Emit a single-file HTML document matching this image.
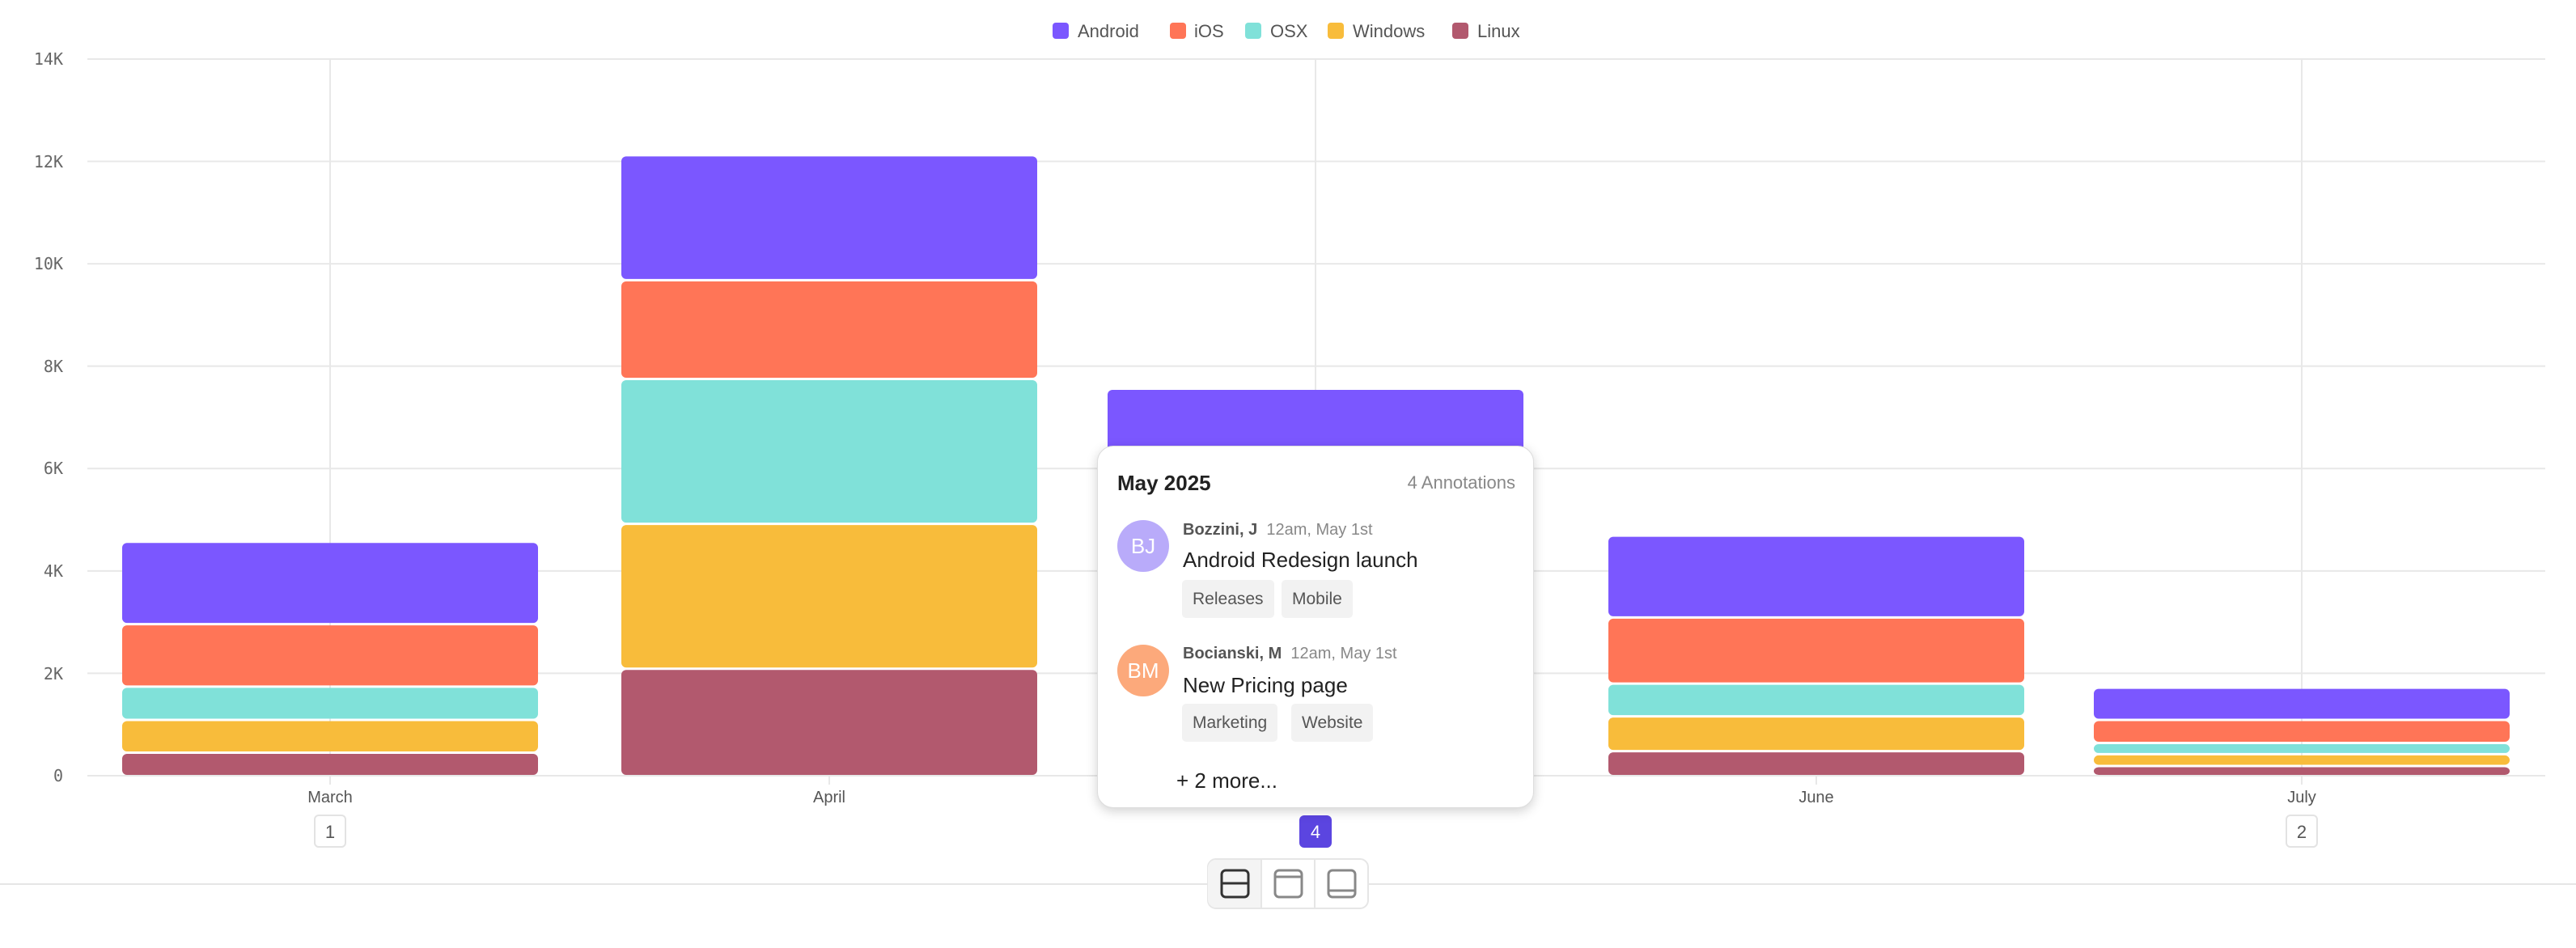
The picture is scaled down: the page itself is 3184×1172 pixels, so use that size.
<!DOCTYPE html>
<html><head><meta charset="utf-8"><style>
html,body{margin:0;padding:0;background:#fff;}
body{width:3184px;height:1172px;overflow:hidden;position:relative;font-family:"Liberation Sans",sans-serif;}
svg{position:absolute;left:0;top:0;}
.tip{position:absolute;left:1356px;top:551px;width:540px;height:448px;background:#fff;border-radius:20px;box-shadow:0 4px 14px rgba(0,0,0,0.18);border:1px solid #ddd;box-sizing:border-box;}
.tip div{position:absolute;white-space:nowrap;}
.av{width:64px;height:64px;border-radius:50%;color:#fff;font-size:26px;text-align:center;line-height:64px;}
.tag{background:#f2f2f2;border-radius:5px;color:#555;font-size:21px;height:47px;line-height:47px;padding:0 13px;}
</style></head><body>
<svg id="s" width="3184" height="1172" xmlns="http://www.w3.org/2000/svg">
<g font-family="Liberation Sans, sans-serif" font-size="22" fill="#555">
<rect x="1301" y="28" width="20" height="20" rx="4" fill="#7b57ff"/><text x="1332" y="46">Android</text>
<rect x="1446" y="28" width="20" height="20" rx="4" fill="#ff7557"/><text x="1476" y="46">iOS</text>
<rect x="1539" y="28" width="20" height="20" rx="4" fill="#80e1d9"/><text x="1570" y="46">OSX</text>
<rect x="1641" y="28" width="20" height="20" rx="4" fill="#f8bc3b"/><text x="1672" y="46">Windows</text>
<rect x="1795" y="28" width="20" height="20" rx="4" fill="#b2596e"/><text x="1826" y="46">Linux</text>
</g>
<line x1="0" y1="1093" x2="3184" y2="1093" stroke="#e6e6e6" stroke-width="2"/>
<g id="grid"></g>
<g id="bars"></g>
<g font-family="DejaVu Sans Mono, monospace" font-size="20" fill="#666" text-anchor="end">
<text x="78" y="80">14K</text><text x="78" y="207">12K</text><text x="78" y="333">10K</text>
<text x="78" y="460">8K</text><text x="78" y="586">6K</text><text x="78" y="713">4K</text>
<text x="78" y="840">2K</text><text x="78" y="966">0</text>
</g>
<g font-family="Liberation Sans, sans-serif" font-size="20" fill="#555" text-anchor="middle">
<text x="408" y="992">March</text><text x="1025" y="992">April</text><text x="2245" y="992">June</text><text x="2845" y="992">July</text>
</g>
<g font-family="Liberation Sans, sans-serif" font-size="22" text-anchor="middle">
<rect x="389" y="1008" width="38" height="39" rx="5" fill="#fff" stroke="#e3e3e3" stroke-width="2"/><text x="408" y="1036" fill="#555">1</text>
<rect x="2826" y="1008" width="38" height="39" rx="5" fill="#fff" stroke="#e3e3e3" stroke-width="2"/><text x="2845" y="1036" fill="#555">2</text>
<rect x="1606" y="1008" width="40" height="40" rx="6" fill="#5b45e0"/><text x="1626" y="1036" fill="#fff">4</text>
</g>
<rect x="1493" y="1062" width="198" height="61" rx="10" fill="#fff" stroke="#e6e6e6" stroke-width="2"/>
<path d="M1503 1063 h56 v59 h-56 a10 10 0 0 1 -10 -10 v-39 a10 10 0 0 1 10 -10z" fill="#f4f4f4"/>
<line x1="1559" y1="1063" x2="1559" y2="1122" stroke="#e6e6e6" stroke-width="2"/>
<line x1="1625" y1="1063" x2="1625" y2="1122" stroke="#e6e6e6" stroke-width="2"/>
<rect x="1510" y="1076" width="33" height="33" rx="5" fill="none" stroke="#333" stroke-width="3"/><line x1="1510" y1="1092" x2="1543" y2="1092" stroke="#333" stroke-width="3"/>
<rect x="1576" y="1076" width="33" height="33" rx="5" fill="none" stroke="#888" stroke-width="3"/><line x1="1576" y1="1084" x2="1609" y2="1084" stroke="#888" stroke-width="3"/>
<rect x="1642" y="1076" width="33" height="33" rx="5" fill="none" stroke="#888" stroke-width="3"/><line x1="1642" y1="1101" x2="1675" y2="1101" stroke="#888" stroke-width="3"/>
</svg>
<div class="tip">
<div style="left:24px;top:30px;font-size:26px;font-weight:bold;color:#222;">May 2025</div>
<div style="right:22px;top:32px;font-size:22px;color:#888;">4 Annotations</div>
<div class="av" style="left:24px;top:91px;background:#b9abfa;">BJ</div>
<div style="left:105px;top:92px;font-size:20px;"><b style="color:#555">Bozzini, J</b>&nbsp;&nbsp;<span style="color:#888">12am, May 1st</span></div>
<div style="left:105px;top:125px;font-size:26px;color:#222;">Android Redesign launch</div>
<div class="tag" style="left:104px;top:165px;">Releases</div>
<div class="tag" style="left:227px;top:165px;">Mobile</div>
<div class="av" style="left:24px;top:245px;background:#fca97b;">BM</div>
<div style="left:105px;top:245px;font-size:20px;"><b style="color:#555">Bocianski, M</b>&nbsp;&nbsp;<span style="color:#888">12am, May 1st</span></div>
<div style="left:105px;top:280px;font-size:26px;color:#222;">New Pricing page</div>
<div class="tag" style="left:104px;top:318px;">Marketing</div>
<div class="tag" style="left:239px;top:318px;">Website</div>
<div style="left:97px;top:398px;font-size:26px;color:#222;">+ 2 more...</div>
</div>
<script>
var NS="http://www.w3.org/2000/svg";
function el(p,t,a){var e=document.createElementNS(NS,t);for(var k in a)e.setAttribute(k,a[k]);p.appendChild(e);return e;}
var g=document.getElementById('grid'),b=document.getElementById('bars');
function y(v){return 959-v*63.29;}
for(var i=0;i<=7;i++){el(g,'line',{x1:108,x2:3146,y1:y(2*i),y2:y(2*i),stroke:'#e8e8e8','stroke-width':2});}
[408,1626,2845].forEach(function(x){el(g,'line',{x1:x,x2:x,y1:73,y2:970,stroke:'#e8e8e8','stroke-width':2});});
[1025,2245].forEach(function(x){el(g,'line',{x1:x,x2:x,y1:959,y2:970,stroke:'#e8e8e8','stroke-width':2});});
var cols=['#b2596e','#f8bc3b','#80e1d9','#ff7557','#7b57ff'];
var data=[[408,[.45,1.09,1.74,2.96,4.57]],[1025,[2.09,4.92,7.75,9.68,12.12]],[1626,[1.3,2.6,3.6,5.5,7.56]],[2245,[.48,1.16,1.8,3.09,4.69]],[2845,[.19,.42,.64,1.09,1.72]]];
data.forEach(function(d){var prev=0;d[1].forEach(function(v,j){var top=y(v)+1.5,bot=(j==0?958:y(prev)-1.5);
el(b,'rect',{x:d[0]-257,y:top,width:514,height:Math.max(bot-top,2),rx:6,fill:cols[j]});prev=v;});});
</script>
</body></html>
